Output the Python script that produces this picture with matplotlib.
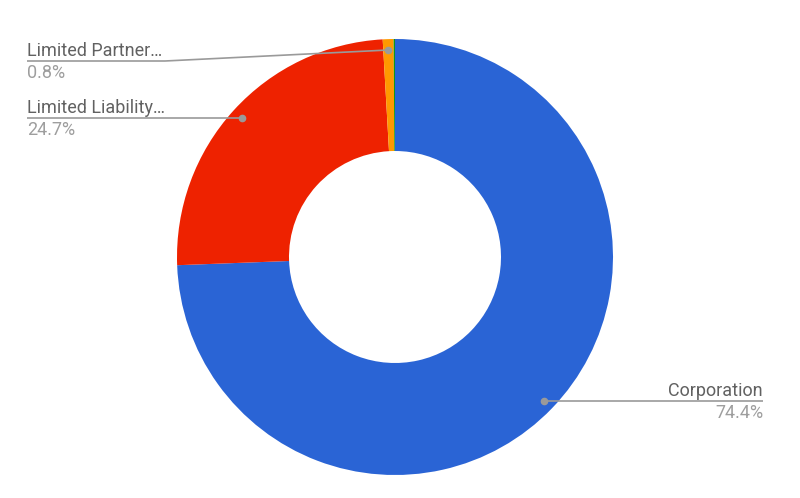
import numpy as np
import matplotlib.pyplot as plt

plt.rcParams['font.family'] = ['Roboto', 'DejaVu Sans']

names = ['Corporation', 'Limited Liability…', 'Limited Partner…', 'Other']
values = [74.4, 24.7, 0.8, 0.1]
colors = ['#2a64d5', '#ee2200', '#ff9900', '#109618']

W, H = 800, 498
cx, cy, R, hole = 395, 257, 218, 106

fig = plt.figure(figsize=(W / 100, H / 100), dpi=100)
ax = fig.add_axes([0, 0, 1, 1])

def Y(y):
    return H - y

wedges, _ = ax.pie(values, colors=colors, startangle=90, counterclock=False,
                   center=(cx, Y(cy)), radius=R, frame=True,
                   wedgeprops=dict(width=R - hole, linewidth=0))
ax.set_xlim(0, W)
ax.set_ylim(0, H)
ax.set_aspect('equal')
ax.axis('off')

# dot positions in the middle of each slice
total = sum(values)
start = 90.0
dots = []
for v in values:
    sweep = v / total * 360
    mid = np.radians(start - sweep / 2)
    dots.append((cx + 0.95 * R * np.cos(mid), cy - 0.95 * R * np.sin(mid)))
    start -= sweep

lc = '#9a9a9a'
name_c = '#616161'
pct_c = '#9e9e9e'
fs = 13

def label(name, pct, line_y, x_text, ha, path):
    xs = [p[0] for p in path]
    ys = [Y(p[1]) for p in path]
    ax.plot(xs, ys, color=lc, lw=1.2, solid_capstyle='butt', zorder=3)
    ax.plot(path[-1][0], Y(path[-1][1]), 'o', ms=4.5, color=lc, zorder=4)
    ax.text(x_text, Y(line_y - 5), name, ha=ha, va='baseline', fontsize=fs, color=name_c)
    ax.text(x_text, Y(line_y + 3), pct, ha=ha, va='top', fontsize=fs, color=pct_c)

# Corporation (right)
dx, dy = dots[0]
label(names[0], '74.4%', dy, 763, 'right', [(763, dy), (dx, dy)])
# Limited Liability (left)
dx, dy = dots[1]
label(names[1], '24.7%', dy, 27, 'left', [(27, dy), (dx, dy)])
# Limited Partner (top left)
dx, dy = dots[2]
label(names[2], '0.8%', 61, 27, 'left', [(27, 61), (165, 61), (dx, dy)])

fig.savefig('out.png', dpi=100)
